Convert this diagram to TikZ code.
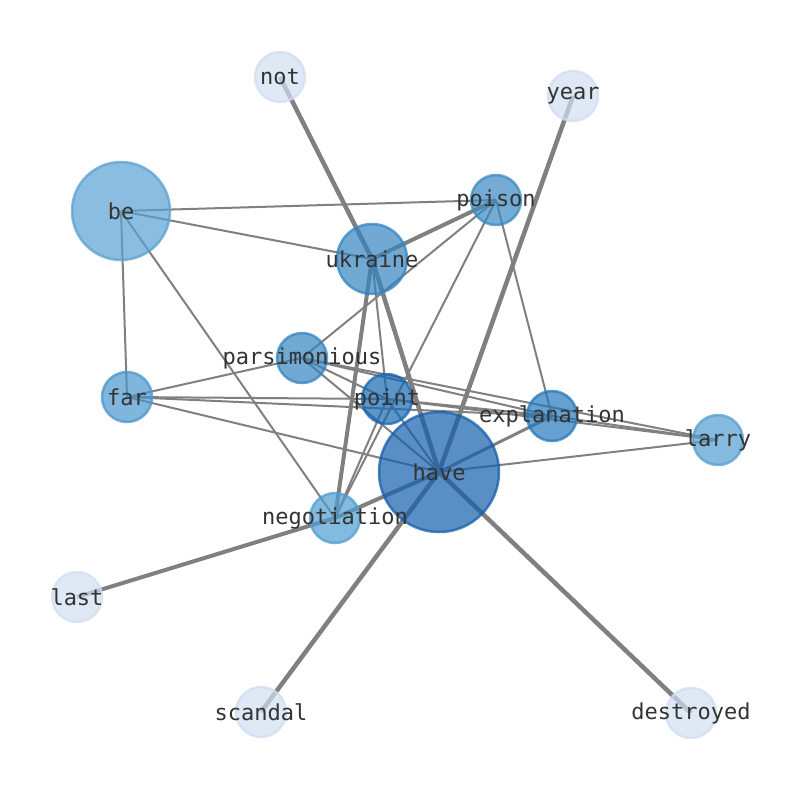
\documentclass[tikz,border=0pt]{standalone}
\usepackage{fontspec}
\setmonofont{DejaVu Sans Mono}
\usepackage{xcolor}
\usepackage{tikz}
\pgfdeclarelayer{edges}
\pgfsetlayers{edges,main}
\definecolor{wlight}{HTML}{D1DEF1}
\definecolor{wbe}{HTML}{59A1D1}
\definecolor{wukr}{HTML}{3484C1}
\definecolor{wpois}{HTML}{3A89C3}
\definecolor{wfar}{HTML}{4A96CD}
\definecolor{wpoint}{HTML}{1568B2}
\definecolor{wexpl}{HTML}{2378BB}
\definecolor{wlarry}{HTML}{539ED1}
\definecolor{wneg}{HTML}{4F9DD1}
\definecolor{whave}{HTML}{145FAC}
\definecolor{wtext}{HTML}{333333}

\begin{document}
\begin{tikzpicture}[
  x=1pt,y=-1pt,
  word/.style={circle,inner sep=0pt,minimum size=50pt,line width=2.5pt,
    fill=#1,draw=#1,fill opacity=0.7,draw opacity=0.75,text opacity=1,
    text=wtext,font=\ttfamily\fontsize{22}{24}\selectfont},
  thin/.style={draw=gray,line width=2pt},
  mid/.style={draw=gray,line width=3pt},
  thick/.style={draw=gray,line width=4.5pt},
]
\useasboundingbox (0,0) rectangle (794,790);
\node[word=wlight] (not) at (280,77) {\makebox[0pt]{not}};
\node[word=wlight] (year) at (573,96) {\makebox[0pt]{year}};
\node[word=wbe,minimum size=98pt] (be) at (121,211) {\makebox[0pt]{be}};
\node[word=wpois] (poison) at (496,200) {\makebox[0pt]{poison}};
\node[word=wukr,minimum size=70pt] (ukraine) at (372,259) {\makebox[0pt]{ukraine}};
\node[word=wukr] (parsimonious) at (302,358) {\makebox[0pt]{parsimonious}};
\node[word=wfar] (far) at (127,397) {\makebox[0pt]{far}};
\node[word=wpoint] (point) at (387,399) {\makebox[0pt]{point}};
\node[word=wexpl] (explanation) at (552,416) {\makebox[0pt]{explanation}};
\node[word=wlarry] (larry) at (718,440) {\makebox[0pt]{larry}};
\node[word=whave,minimum size=120pt] (have) at (439,472) {\makebox[0pt]{have}};
\node[word=wneg] (negotiation) at (335,518) {\makebox[0pt]{negotiation}};
\node[word=wlight] (last) at (77,597) {\makebox[0pt]{last}};
\node[word=wlight] (scandal) at (261,712) {\makebox[0pt]{scandal}};
\node[word=wlight] (destroyed) at (691,713) {\makebox[0pt]{destroyed}};
\begin{pgfonlayer}{edges}
\foreach \a/\b in {not/ukraine,year/have,ukraine/have,have/scandal,have/destroyed}
  \draw[thick] (\a.center) -- (\b.center);
\foreach \a/\b in {poison/ukraine,ukraine/negotiation,have/negotiation,negotiation/last}
  \draw[thick,line width=4pt] (\a.center) -- (\b.center);
\draw[mid] (explanation.center) -- (have.center);
\foreach \a/\b in {be/poison,be/ukraine,be/far,be/negotiation,poison/parsimonious,
  poison/negotiation,poison/explanation,ukraine/point,parsimonious/far,
  parsimonious/point,parsimonious/explanation,parsimonious/larry,parsimonious/have,
  far/point,far/explanation,far/have,point/negotiation,point/explanation,
  point/larry,point/have,explanation/larry,have/larry}
  \draw[thin] (\a.center) -- (\b.center);
\end{pgfonlayer}
\end{tikzpicture}
\end{document}
